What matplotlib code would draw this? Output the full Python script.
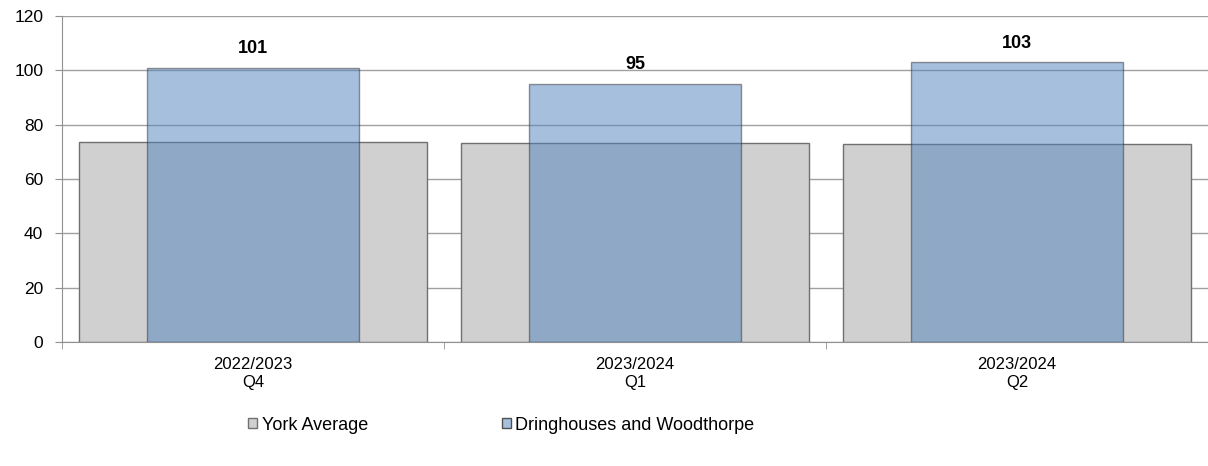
import numpy as np
import matplotlib.pyplot as plt
from matplotlib.patches import Patch

categories = ["2022/2023\nQ4", "2023/2024\nQ1", "2023/2024\nQ2"]
york_avg = [73.8, 73.1, 72.7]
ward = [101, 95, 103]
series_names = ["York Average", "Dringhouses and Woodthorpe"]

plt.rcParams['font.family'] = ['Liberation Sans', 'DejaVu Sans']

fig = plt.figure(figsize=(12.08, 4.66), dpi=100)
ax = fig.add_axes([62 / 1208, 1 - 342 / 466, 1146 / 1208, 326 / 466])

x = np.arange(len(categories))
ax.bar(x, york_avg, width=0.91, color='#d0d0d0', edgecolor='#707070', linewidth=1, zorder=2)
ax.bar(x, ward, width=0.557, color='#4f81bd', alpha=0.5, edgecolor='#303030', linewidth=1, zorder=3)

# value labels above the ward bars
for xi, v in zip(x, ward):
    ax.text(xi, v + 7, str(v), ha='center', va='center', fontsize=13, fontweight='bold')

ax.set_xlim(-0.5, len(categories) - 0.5)
ax.set_ylim(0, 120)
ax.set_yticks(range(0, 121, 20))
ax.tick_params(axis='y', labelsize=12.5, length=5, color='#909090', pad=8.5)
ax.yaxis.grid(True, color='#a0a0a0', linewidth=1, zorder=0)
ax.set_axisbelow(True)

ax.set_xticks(x)
ax.set_xticklabels(categories, fontsize=12, linespacing=1.25)
ax.tick_params(axis='x', length=0, pad=11)
ax.set_xticks(np.arange(-0.5, len(categories)), minor=True)
ax.tick_params(axis='x', which='minor', length=5, direction='out', color='#909090')

for side in ['top', 'right']:
    ax.spines[side].set_visible(False)
for side in ['left', 'bottom']:
    ax.spines[side].set_color('#909090')

handles = [Patch(facecolor='#d0d0d0', edgecolor='#707070'),
           Patch(facecolor='#a7c0de', edgecolor='#505050')]
fig.legend(handles, series_names, loc='center left', bbox_to_anchor=(232 / 1208, 1 - 425 / 466),
           ncol=2, frameon=False, fontsize=13, handlelength=0.5, handleheight=0.5,
           handletextpad=0.25, columnspacing=7.4)

fig.savefig('out.png', dpi=100)
